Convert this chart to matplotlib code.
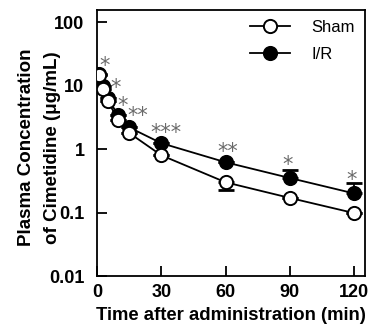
import matplotlib
matplotlib.use("Agg")
import matplotlib.pyplot as plt
import numpy as np

# Data
time = [1, 3, 5, 10, 15, 30, 60, 90, 120]
sham = [14.8, 8.9, 5.7, 2.9, 1.8, 0.80, 0.30, 0.17, 0.098]
sham_err = [0, 0, 0, 0, 0, 0, 0.07, 0, 0]          # downward error
ir = [15.5, 9.9, 6.3, 3.4, 2.2, 1.24, 0.62, 0.35, 0.20]
ir_err = [0, 0, 0, 0, 0, 0, 0, 0.12, 0.09]           # upward error
sig_x = [3.8, 8.8, 12, 19, 32, 61, 89, 119]
sig_y = [20, 9.2, 4.8, 3.3, 1.8, 0.90, 0.56, 0.33]
sig_txt = ["*", "*", "*", "**", "***", "**", "*", "*"]
yticks = [0.01, 0.1, 1, 10, 100]
yticklabels = ["0.01", "0.1", "1", "10", "100"]
xticks = [0, 30, 60, 90, 120]

plt.rcParams['font.family'] = ['Liberation Sans', 'DejaVu Sans']

fig = plt.figure(figsize=(3.77, 3.24), dpi=100)
ax = fig.add_axes([0.257, 0.148, 0.711, 0.821])

# error bars (one-sided)
ax.errorbar(time, sham, yerr=[sham_err, [0]*len(sham)], fmt='none', ecolor='black',
            elinewidth=1.3, capsize=6, capthick=2, zorder=2)
ax.errorbar(time, ir, yerr=[[0]*len(ir), ir_err], fmt='none', ecolor='black',
            elinewidth=1.3, capsize=6, capthick=2, zorder=2)

ax.plot(time, ir, '-o', color='black', mfc='black', mec='black', ms=9.5, mew=1.4,
        lw=1.3, label='I/R', zorder=3)
ax.plot(time, sham, '-o', color='black', mfc='white', mec='black', ms=9.5, mew=1.4,
        lw=1.3, label='Sham', zorder=4)

for x, y, t in zip(sig_x, sig_y, sig_txt):
    ax.text(x, y, t, color='#6a6a6a', fontsize=15, ha='center', va='center',
            family='DejaVu Sans')

ax.set_yscale('log')
ax.set_ylim(0.01, 10**2.19)
ax.set_xlim(0, 125)
ax.set_yticks(yticks)
ax.set_yticklabels(yticklabels)
ax.yaxis.set_minor_locator(matplotlib.ticker.NullLocator())
ax.set_xticks(xticks)
ax.tick_params(direction='in', length=7, width=1.3, labelsize=13)
ax.tick_params(axis='y', pad=9)
ax.tick_params(axis='x', pad=6)
for lab in ax.get_xticklabels() + ax.get_yticklabels():
    lab.set_fontweight('bold')
for s in ax.spines.values():
    s.set_linewidth(1.3)

ax.set_xlabel('Time after administration (min)', fontsize=13.3, fontweight='bold', labelpad=4)
ax.set_ylabel('Plasma Concentration\nof Cimetidine (\u03bcg/mL)', fontsize=13.5,
              fontweight='bold', linespacing=1.7)
ax.yaxis.set_label_coords(-0.134, 0.483)

h, l = ax.get_legend_handles_labels()
ax.legend(h[::-1], l[::-1], loc='upper right', frameon=False, fontsize=12,
          handlelength=2.4, borderaxespad=0.2, labelspacing=0.7, handletextpad=1.3)

fig.savefig('out.png', dpi=100)
